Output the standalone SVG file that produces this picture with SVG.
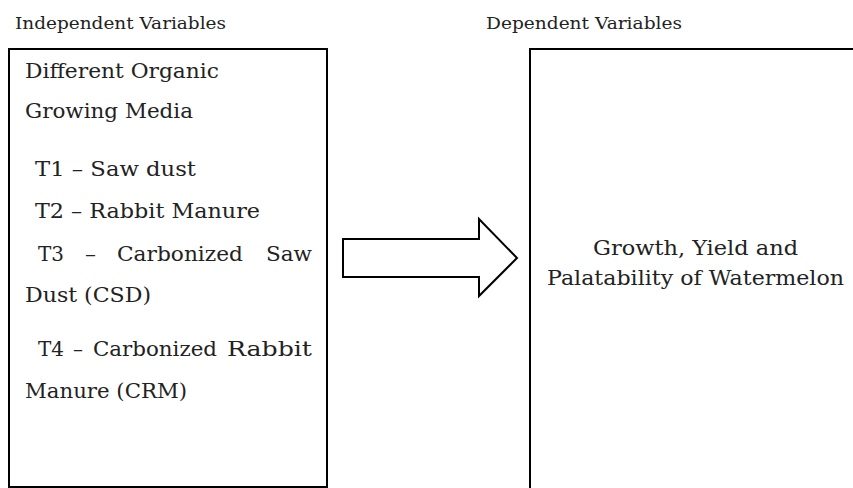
<svg xmlns="http://www.w3.org/2000/svg" width="853" height="488" viewBox="0 0 853 488">
<style>
.t{font-family:"DejaVu Serif","Liberation Serif",serif;fill:#222}
.h{font-size:16.5px}
.b{font-size:20px}
.box{fill:#fff;stroke:#000;stroke-width:2}
</style>
<rect width="853" height="488" fill="#fff"/>
<text class="t h" x="15" y="29" textLength="211" lengthAdjust="spacingAndGlyphs">Independent Variables</text>
<text class="t h" x="486" y="29" textLength="196" lengthAdjust="spacingAndGlyphs">Dependent Variables</text>
<g id="independent">
<rect class="box" x="9" y="49" width="318" height="438"/>
<text class="t b" x="25" y="78" textLength="194" lengthAdjust="spacingAndGlyphs">Different Organic</text>
<text class="t b" x="25" y="118" textLength="168" lengthAdjust="spacingAndGlyphs">Growing Media</text>
<text class="t b" x="35" y="176" textLength="161" lengthAdjust="spacingAndGlyphs">T1 – Saw dust</text>
<text class="t b" x="35" y="218" textLength="225" lengthAdjust="spacingAndGlyphs">T2 – Rabbit Manure</text>
<text class="t b" y="261"><tspan x="38" textLength="26" lengthAdjust="spacingAndGlyphs">T3</tspan> <tspan x="85" textLength="11" lengthAdjust="spacingAndGlyphs">–</tspan> <tspan x="117" textLength="126" lengthAdjust="spacingAndGlyphs">Carbonized</tspan> <tspan x="266" textLength="46" lengthAdjust="spacingAndGlyphs">Saw</tspan></text>
<text class="t b" x="25" y="302" textLength="126" lengthAdjust="spacingAndGlyphs">Dust (CSD)</text>
<text class="t b" y="356"><tspan x="38" textLength="26" lengthAdjust="spacingAndGlyphs">T4</tspan> <tspan x="73" textLength="10" lengthAdjust="spacingAndGlyphs">–</tspan> <tspan x="93" textLength="124" lengthAdjust="spacingAndGlyphs">Carbonized</tspan> <tspan x="227" textLength="85" lengthAdjust="spacingAndGlyphs">Rabbit</tspan></text>
<text class="t b" x="25" y="398" textLength="162" lengthAdjust="spacingAndGlyphs">Manure (CRM)</text>
</g>
<g id="dependent">
<rect class="box" x="530" y="49" width="330" height="450"/>
<text class="t b" x="593" y="255" textLength="205" lengthAdjust="spacingAndGlyphs">Growth, Yield and</text>
<text class="t b" x="547" y="285" textLength="297" lengthAdjust="spacingAndGlyphs">Palatability of Watermelon</text>
</g>
<g id="connectors">
<polygon points="343,239 479,239 479,219 517,258 479,296 479,277 343,277" fill="#fff" stroke="#000" stroke-width="2"/>
</g>
</svg>
